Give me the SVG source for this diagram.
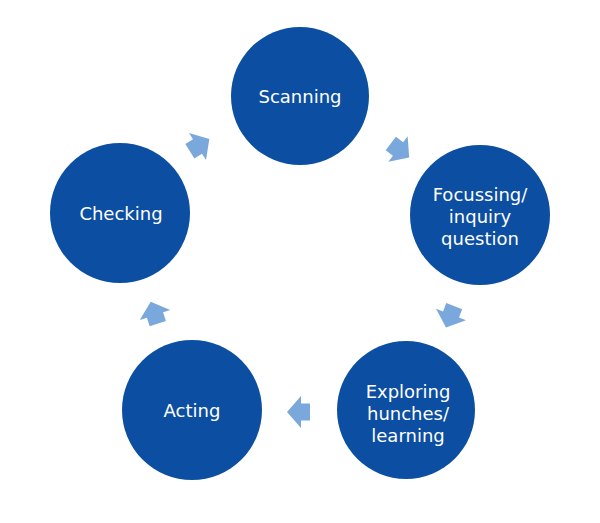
<svg xmlns="http://www.w3.org/2000/svg" width="600" height="523" viewBox="0 0 600 523">
<style>
.node circle{fill:#0b4ea2}
.node text{fill:#ffffff;font-family:"DejaVu Sans","Open Sans",sans-serif;font-size:18px;text-anchor:middle}
.arrow{fill:#7aa7dc}
</style>
<defs>
<polygon id="blk" points="14,0 0,16 0,8.5 -9,8.5 -9,-8.5 0,-8.5 0,-16"/>
</defs>
<rect width="600" height="523" fill="#ffffff"/>
<g id="connectors">
<use href="#blk" class="arrow" transform="translate(197.5,146.5) rotate(-32)"/>
<use href="#blk" class="arrow" transform="translate(398,149) rotate(37)"/>
<use href="#blk" class="arrow" transform="translate(451,314.5) rotate(111)"/>
<use href="#blk" class="arrow" transform="translate(301,412) rotate(180)"/>
<use href="#blk" class="arrow" transform="translate(155,315) rotate(252)"/>
</g>
<g id="scanning" class="node">
<circle cx="300" cy="96" r="69"/>
<text x="300" y="102.5">Scanning</text>
</g>
<g id="focussing" class="node">
<circle cx="480" cy="215" r="70"/>
<text x="480" y="201"><tspan x="480" y="201">Focussing/</tspan><tspan x="480" y="223">inquiry</tspan><tspan x="480" y="245">question</tspan></text>
</g>
<g id="exploring" class="node">
<circle cx="406" cy="410" r="69"/>
<text x="408" y="397.5"><tspan x="408" y="397.5">Exploring</tspan><tspan x="408" y="419.5">hunches/</tspan><tspan x="408" y="441.5">learning</tspan></text>
</g>
<g id="acting" class="node">
<circle cx="192" cy="410" r="70"/>
<text x="192" y="417">Acting</text>
</g>
<g id="checking" class="node">
<circle cx="120" cy="213" r="70"/>
<text x="121" y="219.5">Checking</text>
</g>
</svg>
